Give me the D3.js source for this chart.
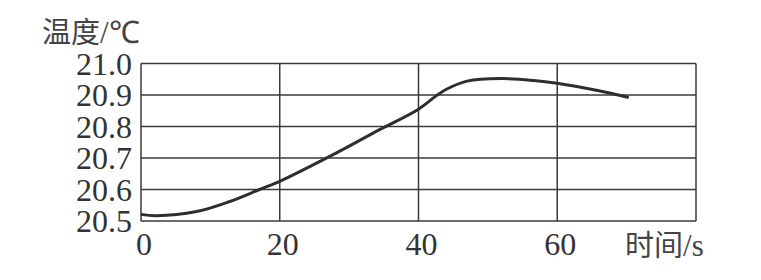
<!DOCTYPE html>
<html>
<head>
<meta charset="utf-8">
<script src="https://cdn.jsdelivr.net/npm/d3@7"></script>
<style>
  html, body { margin: 0; padding: 0; background: #fff; }
  svg { display: block; }
  .num { font-family: "Liberation Serif", "Times New Roman", serif; }
  .cjk { font-family: "Noto Sans CJK SC", sans-serif; }
</style>
</head>
<body>
<svg id="chart" width="761" height="280"></svg>
<script>
// Data
const timeS = [0, 2.2, 8, 12.8, 17.1, 20, 27.2, 34.4, 40, 42.7, 44.1, 47, 51.9, 56.6, 60, 65.8, 70.3];
const tempC = [20.521, 20.517, 20.53, 20.562, 20.6, 20.626, 20.705, 20.79, 20.855, 20.9, 20.919, 20.944, 20.952, 20.946, 20.937, 20.914, 20.892];
const xTicks = [0, 20, 40, 60];
const xGrid = [0, 20, 40, 60, 80];
const yTicks = [20.5, 20.6, 20.7, 20.8, 20.9, 21.0];
const yLabelCJK = "温度", yLabelUnit = "/℃";
const xLabelCJK = "时间", xLabelUnit = "/s";

const svg = d3.select("#chart");
const x = d3.scaleLinear().domain([0, 80]).range([141, 696]);
const y = d3.scaleLinear().domain([20.5, 21.0]).range([221, 63.5]);

const gridColor = "#3a3a3a";
const g = svg.append("g");

g.selectAll("line.h").data(yTicks).join("line")
  .attr("x1", x(0)).attr("x2", x(80))
  .attr("y1", d => y(d)).attr("y2", d => y(d))
  .attr("stroke", gridColor).attr("stroke-width", 1.5);

g.selectAll("line.v").data(xGrid).join("line")
  .attr("x1", d => x(d)).attr("x2", d => x(d))
  .attr("y1", y(20.5)).attr("y2", y(21.0))
  .attr("stroke", gridColor).attr("stroke-width", 1.5);

const line = d3.line().x((d, i) => x(timeS[i])).y(d => y(d)).curve(d3.curveCatmullRom.alpha(0.5));
svg.append("path").datum(tempC)
  .attr("d", line)
  .attr("fill", "none").attr("stroke", "#2e2e2e").attr("stroke-width", 3);

svg.selectAll("text.yt").data(yTicks).join("text")
  .attr("class", "num")
  .attr("x", 132).attr("y", d => y(d) + 11)
  .attr("text-anchor", "end")
  .attr("font-size", 32).attr("fill", "#333")
  .text(d => d.toFixed(1));

svg.selectAll("text.xt").data(xTicks).join("text")
  .attr("class", "num")
  .attr("x", d => x(d) + 3).attr("y", 255)
  .attr("text-anchor", "middle")
  .attr("font-size", 32).attr("fill", "#333")
  .text(d => d);

const yl = svg.append("text").attr("x", 42).attr("y", 43).attr("fill", "#444");
yl.append("tspan").attr("class", "cjk").attr("font-size", 29).text(yLabelCJK);
yl.append("tspan").attr("class", "num").attr("font-size", 31).text(yLabelUnit);

const xl = svg.append("text").attr("x", 625).attr("y", 256).attr("fill", "#444");
xl.append("tspan").attr("class", "cjk").attr("font-size", 29).text(xLabelCJK);
xl.append("tspan").attr("class", "num").attr("font-size", 31).text(xLabelUnit);
</script>
</body>
</html>
